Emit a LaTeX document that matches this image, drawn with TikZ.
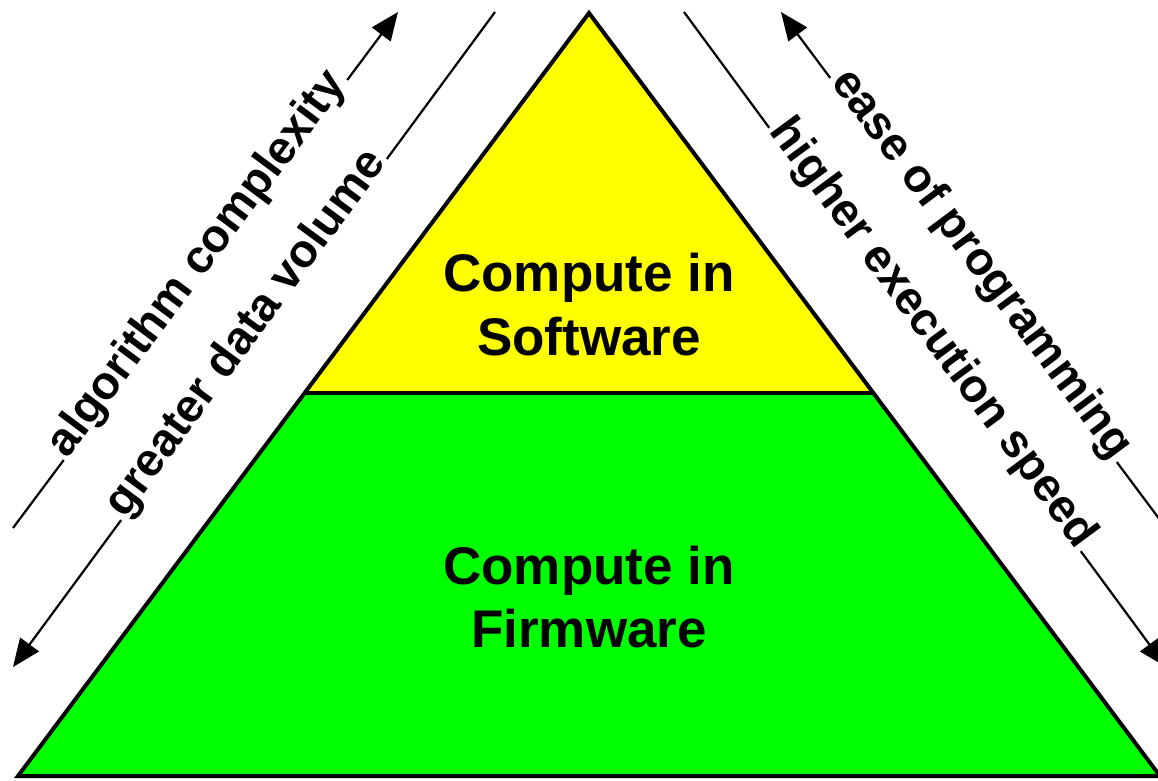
\documentclass[tikz,border=0pt]{standalone}
\usepackage{fontspec}
\setmainfont{Liberation Sans}
\usetikzlibrary{arrows.meta,calc}
\definecolor{tiertop}{RGB}{255,255,0}
\definecolor{tierbase}{RGB}{0,255,0}
\begin{document}
\begin{tikzpicture}[x=1pt,y=-1pt,
  edge/.style={line width=4pt, line join=miter},
  guide/.style={line width=2.2pt},
  tipped/.style={guide, -{Triangle[length=28pt,width=23pt]}},
  sidelabel/.style={font=\fontsize{46.5}{50}\selectfont\bfseries,
    inner xsep=3pt, inner ysep=0pt, anchor=mid, sloped, pos=0.5},
  tierlabel/.style={font=\fontsize{53}{63.5}\selectfont\bfseries, align=center}]
\useasboundingbox (0,0) rectangle (1158,780);

% pyramid corners and the dividing line between the two tiers
\coordinate (apex) at (589,13);
\coordinate (bl) at (18,776);
\coordinate (br) at (1160,776);
\coordinate (dl) at ($(apex)!0.498!(bl)$);
\coordinate (dr) at ($(apex)!0.498!(br)$);

\fill[tiertop] (apex) -- (dl) -- (dr) -- cycle;
\fill[tierbase] (dl) -- (bl) -- (br) -- (dr) -- cycle;
\draw[edge] (apex) -- (bl) -- (br) -- cycle;
\draw[edge] (dl) -- (dr);

\node[tierlabel] (sw) at (589,304.5) {Compute in\\Software};
\node[tierlabel] (fw) at (589,597) {Compute in\\Firmware};

% end points of the four trend arrows
\coordinate (algL) at (13,528);
\coordinate (algU) at (398,12);
\coordinate (volL) at (13,667);
\coordinate (volU) at (495,12);
\coordinate (easeU) at (781,12);
\coordinate (easeL) at (1166,528);
\coordinate (spdU) at (684,12);
\coordinate (spdL) at (1166,667);

\path (algL) -- (algU) node[sidelabel] (alg) {algorithm complexity};
\path (volL) -- (volU) node[sidelabel] (vol) {greater data volume};
\path (easeU) -- (easeL) node[sidelabel] (ease) {ease of programming};
\path (spdU) -- (spdL) node[sidelabel] (spd) {higher execution speed};

\draw[guide] (algL) -- (alg.mid west);
\draw[tipped] (alg.mid east) -- (algU);
\draw[tipped] (vol.mid west) -- (volL);
\draw[guide] (vol.mid east) -- (volU);
\draw[tipped] (ease.mid west) -- (easeU);
\draw[guide] (ease.mid east) -- (easeL);
\draw[guide] (spdU) -- (spd.mid west);
\draw[tipped] (spd.mid east) -- (spdL);
\end{tikzpicture}
\end{document}
